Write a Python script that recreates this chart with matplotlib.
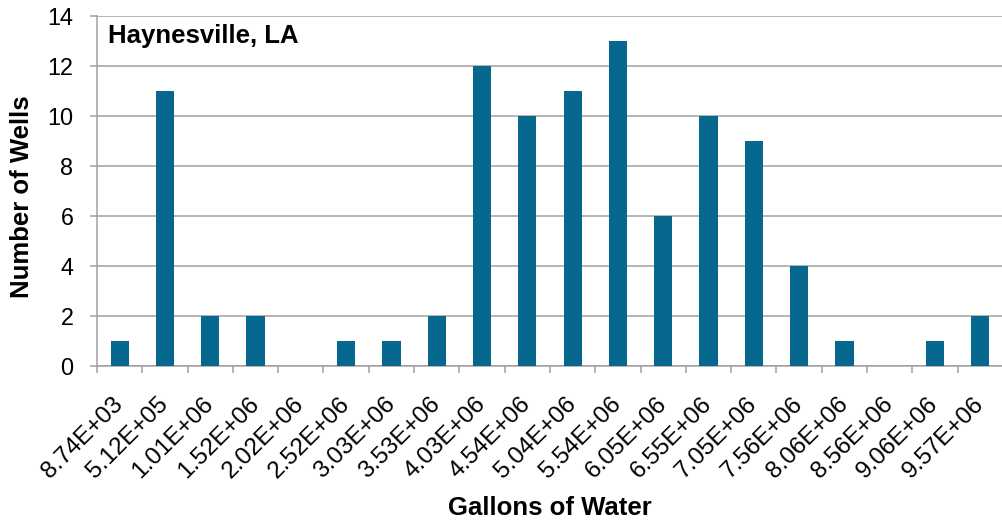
import numpy as np
import matplotlib.pyplot as plt

plt.rcParams['font.family'] = ['Liberation Sans', 'DejaVu Sans']

# bin labels (gallons of water) and well counts
bins = ['8.74E+03', '5.12E+05', '1.01E+06', '1.52E+06', '2.02E+06',
        '2.52E+06', '3.03E+06', '3.53E+06', '4.03E+06', '4.54E+06',
        '5.04E+06', '5.54E+06', '6.05E+06', '6.55E+06', '7.05E+06',
        '7.56E+06', '8.06E+06', '8.56E+06', '9.06E+06', '9.57E+06']
wells = [1, 11, 2, 2, 0, 1, 1, 2, 12, 10, 11, 13, 6, 10, 9, 4, 1, 0, 1, 2]

bar_color = '#06678F'
grid_color = '#A0A0A0'

fig = plt.figure(figsize=(10.02, 5.25), dpi=100)
ax = fig.add_axes([0.0968, 0.3029, 0.9042, 0.6666])

x = np.arange(len(bins))
ax.bar(x, wells, width=0.4, color=bar_color, zorder=3)

ax.set_xlim(-0.5, len(bins) - 0.5)
ax.set_ylim(0, 14)
ax.set_yticks(np.arange(0, 15, 2))
ax.grid(axis='y', color=grid_color, linewidth=1.1, zorder=0)
ax.set_axisbelow(True)

# labels at bar centres, tick marks at category boundaries
ax.set_xticks(x)
ax.set_xticklabels(bins, rotation=45, ha='right', va='center',
                   rotation_mode='anchor', fontsize=17.5)
ax.set_xticks(np.arange(len(bins) + 1) - 0.5, minor=True)
ax.tick_params(axis='x', which='major', length=0, pad=25)
ax.tick_params(axis='x', which='minor', length=5, width=1.1, color=grid_color)
ax.tick_params(axis='y', length=5, width=1.1, color=grid_color,
               labelsize=16.8, pad=12)

for side in ['top', 'right']:
    ax.spines[side].set_visible(False)
for side in ['left', 'bottom']:
    ax.spines[side].set_color(grid_color)
    ax.spines[side].set_linewidth(1.1)

ax.text(0.012, 0.923, 'Haynesville, LA', transform=ax.transAxes,
        fontsize=18.5, fontweight='bold', va='baseline', ha='left')

fig.text(0.549, 0.032, 'Gallons of Water', fontsize=18.5, fontweight='bold',
         ha='center', va='center')
fig.text(0.022, 0.625, 'Number of Wells', fontsize=18.5, fontweight='bold',
         ha='center', va='center', rotation=90)

fig.savefig('out.png', dpi=100)
